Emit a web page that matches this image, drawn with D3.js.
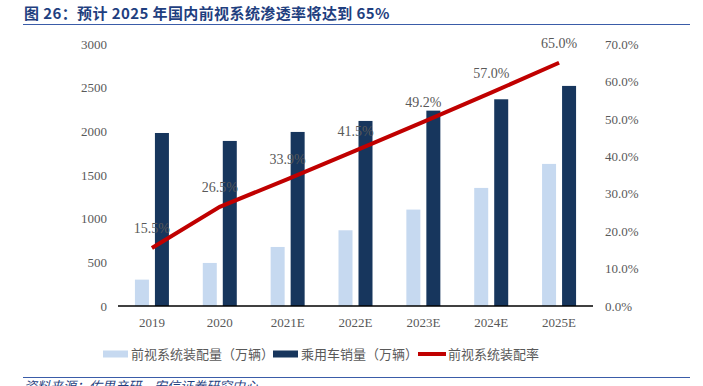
<!DOCTYPE html>
<html>
<head>
<meta charset="utf-8">
<script src="https://cdn.jsdelivr.net/npm/d3@7"></script>
<style>
  body { margin: 0; background: #fff; }
  svg { display: block; }
</style>
</head>
<body>
<svg id="chart" width="703" height="386"></svg>
<script>
const categories = ["2019", "2020", "2021E", "2022E", "2023E", "2024E", "2025E"];
const installVolume = [302, 493, 676, 867, 1104, 1352, 1627];
const carSales = [1981, 1890, 1993, 2119, 2237, 2367, 2520];
const installRate = [0.155, 0.265, 0.339, 0.415, 0.492, 0.570, 0.650];
const rateLabels = ["15.5%", "26.5%", "33.9%", "41.5%", "49.2%", "57.0%", "65.0%"];
const leftTicks = [0, 500, 1000, 1500, 2000, 2500, 3000];
const rightTicks = [0, 0.1, 0.2, 0.3, 0.4, 0.5, 0.6, 0.7];
const seriesNames = ["前视系统装配量（万辆）", "乘用车销量（万辆）", "前视系统装配率"];

const colors = { light: "#c6d9f0", dark: "#17365d", red: "#c00000", text: "#595959", blue: "#1f3f7f" };
const serif = "'Liberation Serif', 'Times New Roman', serif";
const cjk = "'Noto Sans CJK SC', sans-serif";

const svg = d3.select("#chart");

// title + rule lines
svg.append("text")
  .attr("x", 24).attr("y", 19)
  .attr("font-family", cjk)
  .attr("font-weight", "bold")
  .attr("font-size", 15)
  .attr("letter-spacing", 0.4)
  .attr("fill", colors.blue)
  .text("图 26：预计 2025 年国内前视系统渗透率将达到 65%");
svg.append("line").attr("x1", 23).attr("x2", 690).attr("y1", 24.5).attr("y2", 24.5)
  .attr("stroke", "#3a5ca8").attr("stroke-width", 1.2);
svg.append("line").attr("x1", 23).attr("x2", 690).attr("y1", 377.5).attr("y2", 377.5)
  .attr("stroke", "#3a5ca8").attr("stroke-width", 1.2);
svg.append("text")
  .attr("x", 24).attr("y", 391)
  .attr("font-family", cjk).attr("font-style", "italic")
  .attr("font-size", 13).attr("fill", colors.blue)
  .text("资料来源：佐思产研，安信证券研究中心");

const x = d3.scaleBand().domain(categories).range([118, 593]);
const bw = x.bandwidth();
const xInner = d3.scaleBand().domain(["light", "dark"]).range([bw / 2 - 17, bw / 2 + 17]).paddingInner(0.3);
const yL = d3.scaleLinear().domain([0, 3000]).range([306, 44]);
const yR = d3.scaleLinear().domain([0, 0.7]).range([306, 44]);

// left axis
const gl = svg.append("g").attr("transform", "translate(118,0)")
  .call(d3.axisLeft(yL).tickValues(leftTicks).tickSize(0).tickPadding(11).tickFormat(d3.format("d")));
gl.select(".domain").remove();
gl.selectAll("text").attr("font-family", serif).attr("font-size", 13).attr("fill", colors.text);

// right axis
const gr = svg.append("g").attr("transform", "translate(593,0)")
  .call(d3.axisRight(yR).tickValues(rightTicks).tickSize(0).tickPadding(12).tickFormat(d3.format(".1%")));
gr.select(".domain").remove();
gr.selectAll("text").attr("font-family", serif).attr("font-size", 13).attr("fill", colors.text);

// bars
const groups = svg.append("g").selectAll("g")
  .data(categories)
  .join("g")
  .attr("transform", (d) => `translate(${x(d)},0)`);

groups.append("rect")
  .attr("x", xInner("light"))
  .attr("width", xInner.bandwidth())
  .attr("y", (d, i) => yL(installVolume[i]))
  .attr("height", (d, i) => yL(0) - yL(installVolume[i]))
  .attr("fill", colors.light);

groups.append("rect")
  .attr("x", xInner("dark"))
  .attr("width", xInner.bandwidth())
  .attr("y", (d, i) => yL(carSales[i]))
  .attr("height", (d, i) => yL(0) - yL(carSales[i]))
  .attr("fill", colors.dark);

// x axis
const gx = svg.append("g").attr("transform", "translate(0,306)")
  .call(d3.axisBottom(x).tickSize(0).tickPadding(12));
gx.select(".domain").attr("stroke", "#000").attr("stroke-width", 1.3).attr("d", "M118,0H593");
gx.selectAll("text").attr("font-family", serif).attr("font-size", 13).attr("fill", colors.text);

// rate labels
svg.append("g").selectAll("text")
  .data(categories)
  .join("text")
  .attr("x", (d) => x(d) + bw / 2)
  .attr("y", (d, i) => yR(installRate[i]) - 15)
  .attr("text-anchor", "middle")
  .attr("font-family", serif)
  .attr("font-size", 14)
  .attr("fill", colors.text)
  .text((d, i) => rateLabels[i]);

// rate line
const line = d3.line()
  .x((d, i) => x(categories[i]) + bw / 2)
  .y((d) => yR(d));
svg.append("path")
  .datum(installRate)
  .attr("d", line)
  .attr("fill", "none")
  .attr("stroke", colors.red)
  .attr("stroke-width", 4);

// legend
const legend = svg.append("g").attr("transform", "translate(0,354)");
legend.append("rect").attr("x", 103).attr("y", -3.5).attr("width", 25).attr("height", 7).attr("fill", colors.light);
legend.append("text").attr("x", 131).attr("y", 0).attr("dy", "0.35em")
  .attr("font-family", cjk).attr("font-size", 13).attr("fill", colors.text).text(seriesNames[0]);
legend.append("rect").attr("x", 273).attr("y", -3.5).attr("width", 25).attr("height", 7).attr("fill", colors.dark);
legend.append("text").attr("x", 301).attr("y", 0).attr("dy", "0.35em")
  .attr("font-family", cjk).attr("font-size", 13).attr("fill", colors.text).text(seriesNames[1]);
legend.append("line").attr("x1", 418).attr("x2", 446).attr("y1", 0).attr("y2", 0)
  .attr("stroke", colors.red).attr("stroke-width", 4);
legend.append("text").attr("x", 448).attr("y", 0).attr("dy", "0.35em")
  .attr("font-family", cjk).attr("font-size", 13).attr("fill", colors.text).text(seriesNames[2]);
</script>
</body>
</html>
